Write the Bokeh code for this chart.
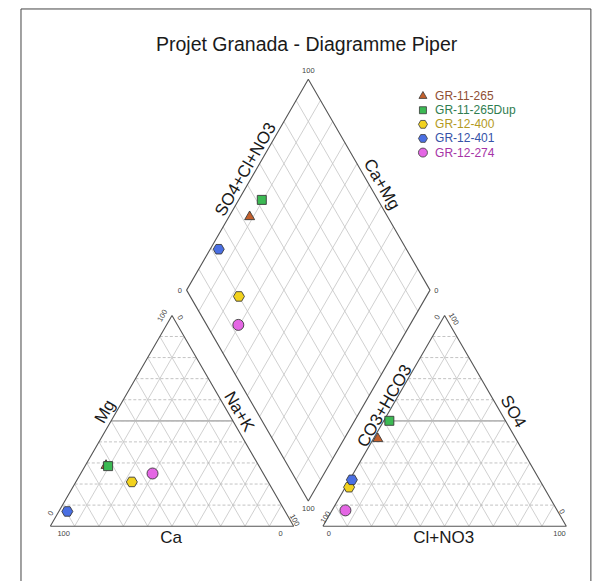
import numpy as np
from bokeh.plotting import figure
from bokeh.models import Range1d
from bokeh.core.properties import value
from bokeh.embed import file_html
from bokeh.resources import INLINE

# ---------------- data (percent of meq) ----------------
samples = ["GR-11-265", "GR-11-265Dup", "GR-12-400", "GR-12-401", "GR-12-274"]
ca   = [62.7, 62.0, 56.0, 89.5, 45.5]
mg   = [28.8, 28.5, 21.0, 7.0, 25.0]
nak  = [8.5, 9.5, 23.0, 3.5, 29.5]
hco3 = [56.7, 47.7, 80.0, 77.1, 87.0]
so4  = [41.5, 50.0, 18.5, 22.0, 7.5]
cl   = [1.8, 2.3, 1.5, 0.9, 5.5]

# ---------------- styles ----------------
markers = ["triangle", "square", "hex", "hex", "circle"]
fills = ["#c4602c", "#3cba54", "#f2d21e", "#4a6fe3", "#e466e4"]
label_colors = ["#8f4e32", "#2f7d50", "#b39a22", "#3552a8", "#a634a6"]
sizes = [10, 9, 11, 11, 11]
FONT = value("Liberation Sans")

H = np.sqrt(3) / 2
GAP = 12.0
OX = 100 + GAP           # origin of anion triangle
BX, BY = 100 + GAP / 2, GAP * H   # bottom vertex of diamond

def cat_xy(c, m, n):
    t = c + m + n
    m, n = m / t * 100, n / t * 100
    return n + m / 2, m * H

def an_xy(h, s, c):
    t = h + s + c
    s, c = s / t * 100, c / t * 100
    return OX + c + s / 2, s * H

def dia_xy(c, m, n, h, s, cc):
    a = (s + cc) / (h + s + cc)
    k = (c + m) / (c + m + n)
    return BX + 50 * (a - k), BY + 100 * H * (a + k)

p = figure(width=600, height=581,
           x_range=Range1d(-20.46, 226.05), y_range=Range1d(-22.72, 215.98),
           output_backend="svg", toolbar_location=None, min_border=0,
           x_axis_location=None, y_axis_location=None)
p.grid.visible = False
p.outline_line_color = None
p.background_fill_color = "white"
p.border_fill_color = "white"

# page frame (left, top, right edges)
p.line([-12.04, -12.04, 222.1, 222.1], [-25, 212.5, 212.5, -25],
       line_color="#444444", line_width=1)

GRID = "#c4c4c4"
ks = np.arange(10, 100, 10)

def tri_grid(ox):
    hx, hy, dx, dy = [], [], [], []
    for k in ks:
        hx.append([ox + k / 2, ox + 100 - k / 2]); hy.append([k * H, k * H])
        dx.append([ox + 100 - k, ox + (100 - k) / 2]); dy.append([0, (100 - k) * H])
        dx.append([ox + k, ox + k + (100 - k) / 2]); dy.append([0, (100 - k) * H])
    p.multi_line(dx, dy, line_color=GRID, line_width=0.8)
    p.multi_line(hx, hy, line_color="#b4b4b4", line_width=0.8, line_dash="3 2")
    p.line([ox + 25, ox + 75], [50 * H, 50 * H], line_color="#b8b8b8", line_width=1.8)
    p.line([ox, ox + 100, ox + 50, ox], [0, 0, 100 * H, 0],
           line_color="#555555", line_width=1.1)

tri_grid(0)
tri_grid(OX)

# diamond grid
R = (50, 100 * H)
L = (-50, 100 * H)
gx, gy = [], []
for k in ks:
    f = k / 100
    sx, sy = BX + f * R[0], BY + f * R[1]
    gx.append([sx, sx + L[0]]); gy.append([sy, sy + L[1]])
    sx, sy = BX + f * L[0], BY + f * L[1]
    gx.append([sx, sx + R[0]]); gy.append([sy, sy + R[1]])
p.multi_line(gx, gy, line_color=GRID, line_width=0.8)
p.line([BX, BX + R[0], BX, BX + L[0], BX], [BY, BY + R[1], BY + 200 * H, BY + L[1], BY],
       line_color="#555555", line_width=1.1)

# ---------------- tick labels ----------------
A60 = np.pi / 3
ticks = [
    # (x, y, text, angle)
    (5.5, -3.0, "100", 0), (94.6, -3.0, "0", 0),
    (0.1, 5.3, "0", A60), (46.0, 86.5, "100", A60),
    (53.4, 85.7, "0", -A60), (100.4, 2.5, "100", -A60),
    (OX + 2.4, -3.0, "0", 0), (OX + 97.2, -3.0, "100", 0),
    (OX + 1.1, 3.7, "100", A60), (OX + 46.9, 85.9, "0", A60),
    (OX + 98.2, 6.0, "0", -A60), (OX + 53.8, 85.2, "100", -A60),
    (BX, BY + 200 * H + 3.6, "100", 0), (BX, BY - 3.2, "100", 0),
    (BX - 52.8, BY + 100 * H, "0", 0), (BX + 52.6, BY + 100 * H, "0", 0),
]
for x, y, t, a in ticks:
    p.text([x], [y], text=[t], angle=a, text_align="center", text_baseline="middle",
           text_font=FONT, text_font_size="7.5px", text_color="#444444")

# ---------------- axis titles ----------------
titles = [
    (49.6, -4.8, "Ca", 0), (OX + 49.6, -4.8, "Cl+NO3", 0),
    (22.4, 47.1, "Mg", A60), (77.6, 47.1, "Na+K", -A60),
    (OX + 25.3, 49.4, "CO3+HCO3", A60), (OX + 78.2, 47.1, "SO4", -A60),
    (80.2, 146.6, "SO4+Cl+NO3", A60), (136.2, 140.5, "Ca+Mg", -A60),
]
for x, y, t, a in titles:
    p.text([x], [y], text=[t], angle=a, text_align="center", text_baseline="middle",
           text_font=FONT, text_font_size="17px", text_color="#1a1a1a")

p.text([105.3], [198.3], text=["Projet Granada - Diagramme Piper"], text_align="center",
       text_baseline="middle", text_font=FONT, text_font_size="19.5px", text_color="#1a1a1a")

# ---------------- points ----------------
for i in range(len(samples)):
    x1, y1 = cat_xy(ca[i], mg[i], nak[i])
    x2, y2 = an_xy(hco3[i], so4[i], cl[i])
    x3, y3 = dia_xy(ca[i], mg[i], nak[i], hco3[i], so4[i], cl[i])
    p.scatter([x1, x2, x3], [y1, y2, y3], marker=markers[i], size=sizes[i],
              fill_color=fills[i], line_color="#3a3a3a", line_width=0.9)

# ---------------- legend ----------------
LX, LY, DY = 153.1, 176.7, 5.8
for i, s in enumerate(samples):
    yy = LY - i * DY
    p.scatter([LX], [yy], marker=markers[i], size=sizes[i] - 2,
              fill_color=fills[i], line_color="#3a3a3a", line_width=0.8)
    p.text([LX + 5.0], [yy], text=[s], text_align="left", text_baseline="middle",
           text_font=FONT, text_font_size="12px", text_color=label_colors[i])

open("out.html", "w").write(file_html(p, INLINE))
